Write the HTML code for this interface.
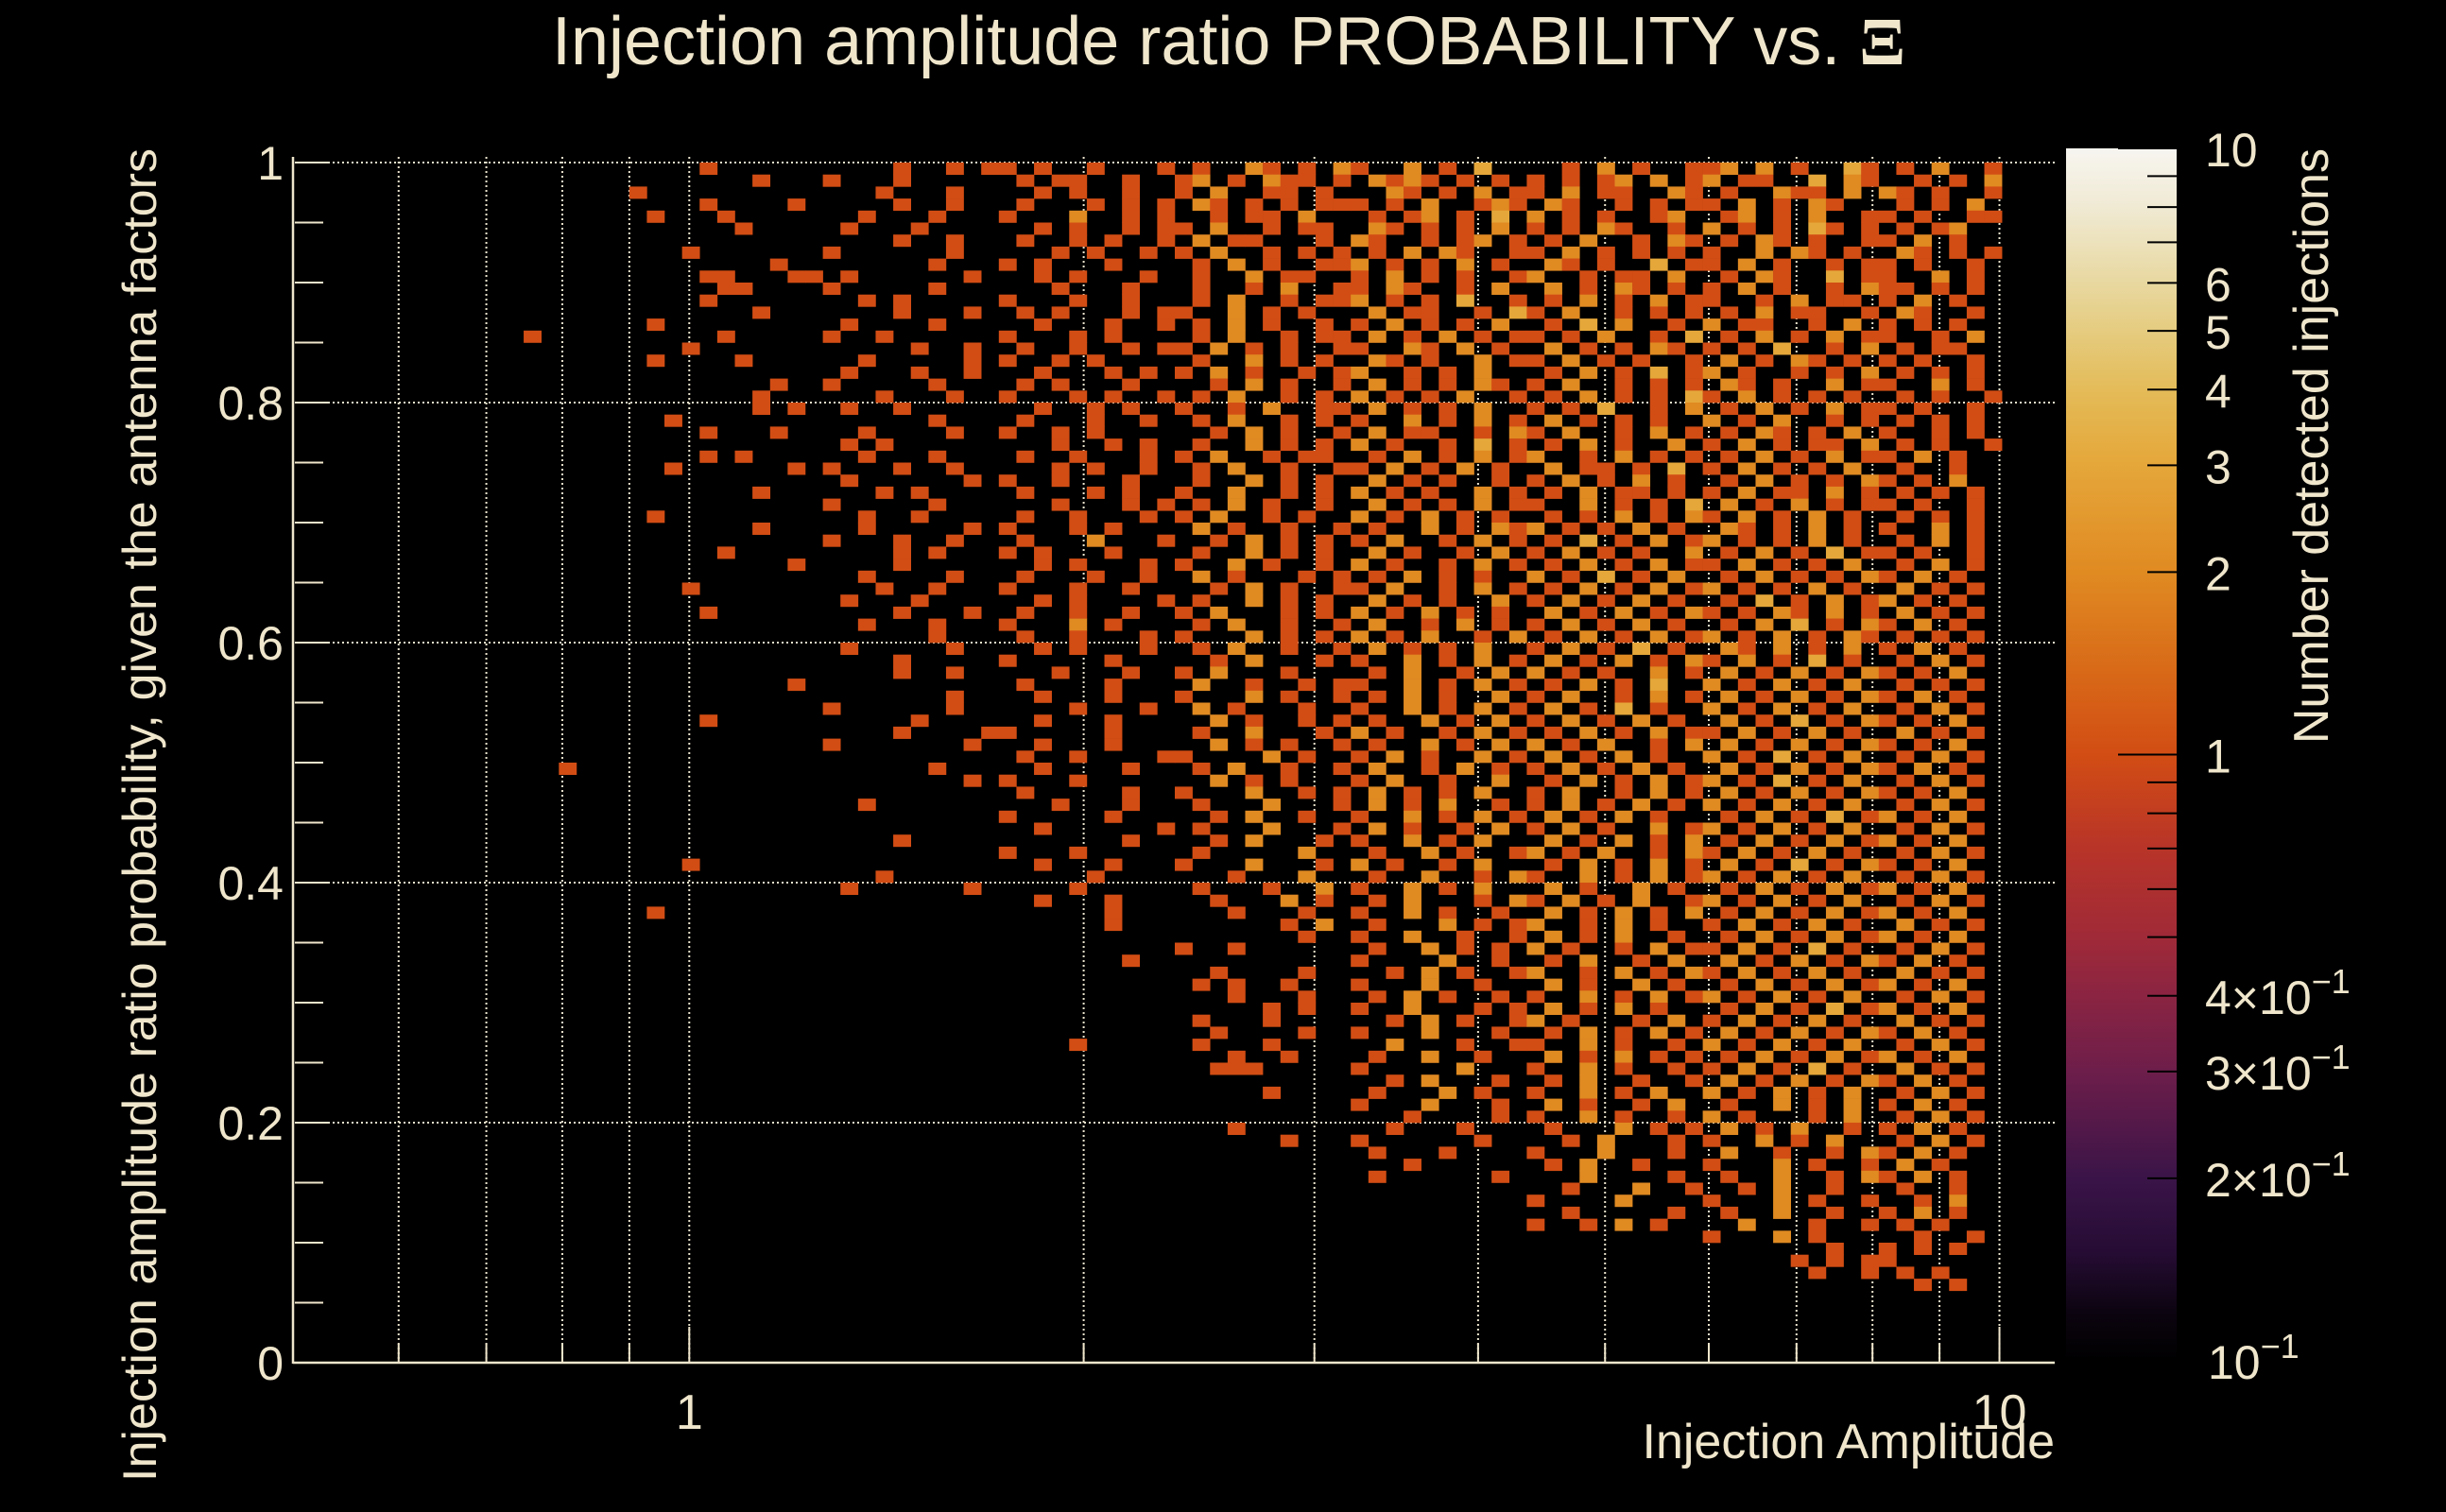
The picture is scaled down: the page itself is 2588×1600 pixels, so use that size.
<!DOCTYPE html>
<html><head><meta charset="utf-8"><title>Injection amplitude ratio probability</title>
<style>
html,body{margin:0;padding:0;background:#000;}
svg{display:block;}
text{font-family:"Liberation Sans",sans-serif;fill:#efe6cc;}
</style></head>
<body>
<svg id="chart" width="2588" height="1600" viewBox="0 0 2588 1600" xmlns="http://www.w3.org/2000/svg">
<rect x="0" y="0" width="2588" height="1600" fill="#000"/>
<defs>
<linearGradient id="cbgrad" x1="0" y1="0" x2="0" y2="1">
<stop offset="0" stop-color="#f7f5f0"/>
<stop offset="0.048" stop-color="#f0ead4"/>
<stop offset="0.111" stop-color="#e8d8a0"/>
<stop offset="0.15" stop-color="#e5cc80"/>
<stop offset="0.2" stop-color="#e4bb58"/>
<stop offset="0.26" stop-color="#e5a73a"/>
<stop offset="0.35" stop-color="#e08a22"/>
<stop offset="0.43" stop-color="#d86a18"/>
<stop offset="0.5" stop-color="#d24d14"/>
<stop offset="0.577" stop-color="#b83428"/>
<stop offset="0.65" stop-color="#a02a38"/>
<stop offset="0.7" stop-color="#8a2442"/>
<stop offset="0.76" stop-color="#6e1e4a"/>
<stop offset="0.85" stop-color="#3a1448"/>
<stop offset="0.91" stop-color="#260c34"/>
<stop offset="0.96" stop-color="#0c0410"/>
<stop offset="1" stop-color="#000"/>
</linearGradient>
</defs>
<g id="grid"></g>
<g id="cells"></g>
<g id="axes"></g>
<g id="colorbar"></g>
<text x="1300" y="68" font-size="72" text-anchor="middle">Injection amplitude ratio PROBABILITY vs.  <tspan font-family="Liberation Serif, serif" font-weight="bold">Ξ</tspan></text>
<text x="2174" y="1543" font-size="52" text-anchor="end">Injection Amplitude</text>
<text transform="translate(165,157) rotate(-90)" x="0" y="0" font-size="50" text-anchor="end" textLength="1411" lengthAdjust="spacingAndGlyphs">Injection amplitude ratio probability, given the antenna factors</text>
<text transform="translate(2463,157) rotate(-90)" x="0" y="0" font-size="52" text-anchor="end">Number detected injections</text>
</svg>
<script>
// ---- data ----
const xRange = [0.5, 11.02];
const yRange = [0, 1];
const nXBins = 100;
const nYBins = 100;
const xTickLabels = ["1", "10"];
const xTickValues = [1, 10];
const xMinorValues = [0.6,0.7,0.8,0.9,2,3,4,5,6,7,8,9];
const yTickValues = [0, 0.2, 0.4, 0.6, 0.8, 1];
const yTickLabels = ["0", "0.2", "0.4", "0.6", "0.8", "1"];
const cbMajor = [0.1, 1, 10];
const cbMinor = [0.2,0.3,0.4,0.5,0.6,0.7,0.8,0.9,2,3,4,5,6,7,8,9];
const cbLabelValues = [10, 6, 5, 4, 3, 2, 1];
const cbSciValues = [0.4, 0.3, 0.2];
const countColors = ["#000", "#d24d14", "#e08a22", "#e5a73a", "#e4bb58"];
// counts per bin; rows from top (y=1) to bottom (y=0); groups of 10 x-bins, "E" = empty group
const countRows = [
"E E ...1...... ....1..1.1 1.1..1...1 .1..21.1.2 1..2.1.3.. ..1.2.1..1 12.2.1..31 .1.2..1...",
"E E ......1... 1...1..... .1.11..1.. 12.1.211.1 .2121.1.1. 1.1.12.2.1 2.11..3.21 ..1.1.2...",
"E .........1 E ...1...1.. ..1.1..1.. 1.2..11.1. ..21.1.2.1 1.2.11..21 .1..211.2. 21.1..1...",
"E E ...1....1. ....1..1.. .1...1.1.1 .21.1.1.11 1.1.2..121 .21..1.1.1 1.2.1.21.. .1.1.2....",
"E E 1...1..... ..1...1... 1...2..1.1 ..1.11.2.. .1.12.1.3. 2.1.1..12. .12.1.2..1 1.1..11...",
"E E .....1.... .1...1.... ..1.1..1.1 1.2..1.11. .21.1.1.2. 1.1.21..1. 2.1.1.31.1 .1.12.....",
"E E E ....1..1.. .1..1.1..1 .2.11...1. 21..1.12.1 .1.2..1.21 .1.21.1..1 1.2.1.....",
"E E ..1....... 1......1.. ...1.1..1. 1.2..1.1.1 .1.2.21..1 1.2.1.1.1. 1..2.21.1. .21.1.1...",
"E E .......1.. ......1... 1.1...1... .1.2.1..11 2.1.1.2.1. .21.1..3.1 1.2.1..1.1 1.1..1....",
"E E ...11...11 .1......1. ..1.1...1. .1..2.11.. 1.2.1.1..1 2..1.11.2. .1.21..3.1 1..2.1....",
"E E ....11.... 1.....1... ...1...1.. .1..1.2..1 1.21..1.2. .2.1.21.1. 1.2.1..1.2 11.1.1....",
"E E ...1...... ..1.1..... 1...1..1.. .1.2..1.11 2.1.1.3..1 .1.2.1.2.1 1..1.2.11. 1.2.1.....",
"E E ......1... ....1...1. .1.1...1.1 1..2.1.1.. .2.11..1.3 1.2..1.1.1 .1.2.11..1 .21..1....",
"E E 1......... .1....1... ..1...1..1 .1.2.1..1. 1.2.1.1.2. .1.3.2..1. 2.11..1.2. 1.1.1.....",
"E ...1...... ....1..... 1..1...... 1...1.1... .1.2..1.11 .2.1.2.1.1 1.1.2..1.3 .1.2.1.2.1 1..1.2....",
"E E ..1....... .....1..1. .1..1..1.1 1.2.1.1..1 1..21.2.1. .2.1.1.21. 1.1.3..1.2 .1.11.....",
"E E 1....1.... ..1.....1. 1..1.1.... .1..2.1.1. .21.1..2.1 1.2.1.1..1 .2.1.21.1. 1.1..1....",
"E E E .1...1..1. ..1...1.1. 1.2.1..1.1 2..1.1.2.. .1.2.1.3.1 2.1..1.1.2 .1.1.1....",
"E E .......1.. 1.....1... .1.1...1.. ..1.2.1..1 .2.1.1.21. 1.2..1.1.1 .21.1..2.1 1..2.1....",
"E E ......1... ...1...1.. 1...1.1..1 .1.2..1.1. 2.1.1.2..1 .1.2.1.1.3 1.2.1.1.1. .1.1..1...",
"E E ......1.1. .1..1..... ..1..1.1.. 1..1.2..11 .2.1.1.2.. 1.1.3..1.2 .1.2.1.2.1 1.1..1....",
"E E .1........ ......1... .1...1..1. .1.2..1.1. 1..2.1.2.1 .2.1.1.1.. 2.1.2..1.1 .1.1.1....",
"E E ...1...1.. ..1....1.. 1..1.1.... ..1.2.1..1 .2.11..1.2 1.2..1.2.1 .1.21.1.2. 1..1.1....",
"E E E .1.1...... ...1..1.1. .1..2.1.1. 2.1..1.3.1 .1.2.1..2. 1.2.1.11.2 .1.1..1...",
"E E ...1.1.... ..1...1... .1..1...1. 1.2..1.11. .1.2.1.2.1 2..1.2.1.1 .1.2.1.2.1 1.2.1.....",
"E E .1......1. 1...1..1.. ...1.1..1. .1.2..1..1 1.2.1.2.1. .2.11.1.3. 1.2.1.1.2. .1..1.....",
"E E E .1......1. 1..1...1.. .1..2.1.1. .2.1.1..1. 1.2.1.2.1. .1.2.1.1.2 1.1.2.....",
"E E ......1... ...1.1.... .1...1.1.. 1..2..1.1. 2.1.1..2.1 .1.2.11.1. 1.2.11.2.1 .1.1.1....",
"E E E 1.....1... ...1...1.1 .1.2.1..1. .2.1.1.2.1 1..2.1.1.3 .2.1.2.1.1 1.1..1....",
"E E 1......... ..1..1.... .1..1...1. 1.2..1.1.. 2.1.2.1.1. .1.1.2.1.2 1.2.1.2.1. .1.1.1....",
"E E ......1... ..1.....1. 1...1.1... .2.1..1..1 .1..2.1.21 2.1.1.2.1. .21.1.2.1. 1..2.1....",
"E E E 1...1..1.. .1...2...1 ..1.2.1.1. 1.2..1.2.1 .1.3.1.2.1 2.1.1.2.1. .1.2.1....",
"E E ....1..... ....1.1... 1.1...1... .1..2.1.1. .2.1..1.2. 1.2.1.1..2 .1.2.1.3.1 1.1..1....",
"E E ........1. ....1..... ..1.1...1. 1..2.1..1. 2.1..1.2.1 .1.2.1.2.1 1.2.1.1.2. .1.2.1....",
"E E E ..1....1.. .1...1..1. .2.1...1.1 .1.2.1.1.. 2.1.3.1.2. .1.2.1.1.2 1.2.1.....",
"E E ..1....... ...1..1... 1...1..1.. ..1.2.1..1 1.2..1.2.1 .1.2.1.2.1 2.1.1.2.1. .2.1.1....",
"E E E .1...1.... ..1.1....1 .1..2.1.1. .2.1.1..2. 1.2.1.2.1. .1.3.1.2.1 2.1.1.....",
"E E ...1...... ....1...1. .1..1..1.. 1.2...1.1. 2.1.2.1.1. .2.1.2.1.2 1.1.21.2.1 .2.1.1....",
"E E E ..1...1... 1...2.1... .1.2..1..1 .2..1.2.1. 1.2.1.2.1. .1.2.3.1.2 1.2.1.....",
"E E E ......1... .1..1...1. 1...2.1.1. 2.1.2..1.2 .1.2.1.2.1 2.1.2.1.21 .1.1.1....",
"E E E .1.....1.. ..1.1...1. .1.2..1..1 .2.1.1.2.. 1.2.1.3.1. .21.2.1.2. 1.2.1.....",
"E E E ....1..... 1.....1... ..1.2...1. 1..2.1.2.1 .2.1.2.1.2 1.2.1.3.1. .1.2.1....",
"E E E ....1..1.. ...1...1.. 1.2...1... .1.2..1.2. 2.1.1..2.1 .2.1.2.1.2 1.1.2.....",
"E E ........1. E .1....1... .2..1..1.1 1..2.1.2.1 .1.2.1.3.. 2.1.2.1.2. .1.1.1....",
"E E E .......1.. ..1...1... 1...2.1..1 .1.2.1..2. 1.2..1.2.1 .2.1.2.1.2 1.2.1.....",
"E E E 1......1.. ....1...1. .2.1...1.. 1..2.1.2.1 .2.1.3.1.. 2.1.2.1.2. .1.2.1....",
"E E ...1...... .....1.... ..1...1... ..2.1..1.1 .1..2.1.2. 1.2.1.2.1. .2.1.3.1.2 1.1.2.....",
"E E E ....1....1 1.....1... .1..2...1. 2.1..1.2.1 .1.2.1.2.1 1.2.1.2.1. .2.1.1....",
"E E E 1.......1. ..1...1... ..2.1.1..1 .1..2.1.2. 2.1.2..1.2 .2.1.2.1.2 1.1.2.....",
"E E E E .1..1....1 1....2.1.. 1.2.1..2.1 .2.1.2.1.. 2.1.3.1.2. .1.2.1....",
"E .....1.... E ......1... ..1....1.. .1.2..1..1 .2..1.2.1. 1.2.1.2.1. .2.1.2.1.2 1.2.1.....",
"E E E ........1. 1...1..... ..2.1.1... 1.2..1..2. .1.2.1.2.1 2.1.3.1.2. .1.2.1....",
"E E E E .1.....1.. 1...2..1.1 .2.1.1.2.. 1.2..1.2.1 .2.1.2.1.2 1.1.2.....",
"E E E ..1....... ...1...1.. .1...2...1 .2.1.2..1. 1.2.1.2.1. 2.1.2.1.2. .1.2.1....",
"E E E E 1.....1... ..1.2..1.. 1..2.1.2.1 .2.1.2.1.. .1.2.1.3.1 2.1.2.....",
"E E E E ..1......1 .1...2...1 .2.1..1.2. 1.2.1..2.1 2.1.2.1.2. .1.2.1....",
"E E E ....1..... .......1.. ..1.2...1. 1..2.1.2.. .2.1.2.1.2 .1.2.1.2.1 2.1.2.....",
"E E E E 1...1..... .1.....2.. .1..2.1..1 2.1.2..1.2 1.2.1.2.1. .1.2.1....",
"E E ..1....... E ..1...1... 1...2...1. 2.1..1.2.. .1.2.1.2.1 .2.1.3.1.2 1.1.2.....",
"E E E ...1...... .....1.... ...1...2.. .1..2..1.2 1..2.1.2.1 2.1.2.1.2. .1.2.1....",
"E E E .1......1. ....1..... .1...1..2. 1..2.1.2.. .2.1..2.1. .1.2.1.2.1 2.1.2.....",
"E E E E ..1...1... ..1...2.1. .1.2...1.2 1.2.1.2..1 2.1.2.1.2. .1.2.1....",
"E E 1......... E ......1... ...1...1.. 1..2.1..1. .2.1.2.1.2 .1.2.1.2.1 2.1.2.....",
"E E E E ......1... ......1.2. .1...2.1.1 2..1.2.1.. 1.2.1.2.1. .2.1.1....",
"E E E E E .......1.. 1..2..1..1 .2.1.2..1. .1.2.1.2.1 2.1.2.....",
"E E E E E 1..1...... .1..2.1.1. 2.1..1.2.1 1.2.1.3.1. .1.2.1....",
"E E E E .......1.. E 1....2..1. .1.2..1.2. .2.1.2.1.2 1.2.1.....",
"E E E E E ..1....1.. ..1.2.1..1 2..1.2.1.2 1.2.1.2.1. .2.1.1....",
"E E E E E .1.1..1... 1...2..1.. .2.1..2.1. .1.2.1.2.1 2.1.2.....",
"E E E E E ...1...1.. .1.2.1..1. 1..2.1.2.1 2.1.2.1.2. .1.2.1....",
"E E E E E .....1.1.. 1..2...1.1 .2.1.2.1.. .1.2.1.3.1 2.1.2.....",
"E E E E E .1...1.... ..1.2.1..1 2.1...1.2. 1.2.1.2.1. .2.1.1....",
"E E E E E ..1....1.. 1...2...1. .1.2.1.2.1 .2.1.2.1.2 1.2.1.....",
"E E E E ....1..... .1...1.... ..2...1..1 1..2.1..1. 2.1.2.1.2. .1.2.1....",
"E E E E E ...1..1... .1..2..1.. .2.1.2.1.1 .1.2.1.2.1 2.1.2.....",
"E E E E E ..111..... 1.....2... 1..2.1..1. 1.2.1.3.1. .2.1.1....",
"E E E E E E ..1.2...1. .1.2..1..1 .2.1.2.1.2 1.2.1.....",
"E E E E E .....1.... .1...2.1.. 1..2.1.2.. 2.1.2.1.2. .1.2.1....",
"E E E E E E 1...2...1. .2.1..1.2. .1..2.1.2. 1.2.1.....",
"E E E E E E ...1....1. 1..2.1..1. 2.1...1.2. .1.2.1....",
"E E E E E ...1...... ..1...1... .1...2.1.1 .2.1.2..1. 1.2.1.....",
"E E E E E ......1... 1......1.. ..1.2...1. 1..2.1.2.. .1.2.1....",
"E E E E E E .1...1.... 1...2...1. .2..1..1.2 1.2.1.....",
"E E E E E E ...1...... .1.2..1... 1...2.1..1 .2.1......",
"E E E E E E .1......1. ...2....1. .1..2..1.2 1.2.1.....",
"E E E E E E E ..1...2..1 ..1.2..1.. .1..1.....",
"E E E E E E E 1....2.... 1...2.1..1 ..1.2.....",
"E E E E E E E ..1.....1. .1..2..1.. 1.2.1.....",
"E E E E E E E 1..1.2.1.. ..2...1..1 .1.1......",
"E E E E E E E E 1...2.1... ..1..1....",
"E E E E E E E E .......1.. 1.1.1.....",
"E E E E E E E E .....1.1.1 1.........",
"E E E E E E E E ......1..1 .1.1......",
"E E E E E E E E E ..1.1.....",
"E E E E E E E E E E",
"E E E E E E E E E E",
"E E E E E E E E E E",
"E E E E E E E E E E",
"E E E E E E E E E E",
"E E E E E E E E E E",
"E E E E E E E E E E"
];

// ---- scales ----
const NS = "http://www.w3.org/2000/svg";
const plotL = 312, plotR = 2174, plotT = 172, plotB = 1442;
const lmin = Math.log10(xRange[0]), lmax = Math.log10(xRange[1]);
function xScale(v){ return plotL + (Math.log10(v) - lmin) / (lmax - lmin) * (plotR - plotL); }
function xBinScale(i){ return plotL + i / nXBins * (plotR - plotL); }
function yScale(v){ return plotB - (v - yRange[0]) / (yRange[1] - yRange[0]) * (plotB - plotT); }
const cbL = 2186, cbR = 2303, cbT = 157, cbB = 1440;
function cbScale(v){ return cbT + (1 - Math.log10(v)) / 2 * (cbB - cbT); }

function mk(tag, attrs, parent){
  const el = document.createElementNS(NS, tag);
  for (const k in attrs) el.setAttribute(k, attrs[k]);
  parent.appendChild(el);
  return el;
}

// ---- grid ----
const grid = document.getElementById('grid');
xTickValues.concat(xMinorValues).forEach(v => {
  const l = mk('line', {x1: xScale(v), x2: xScale(v), y1: plotT - 6, y2: plotB, stroke: '#e9e2cc', 'stroke-width': 2, 'stroke-dasharray': '2 3'}, grid);
  
  
});
yTickValues.slice(1).forEach(v => {
  const l = mk('line', {x1: plotL, x2: plotR, y1: yScale(v), y2: yScale(v), stroke: '#e9e2cc', 'stroke-width': 2, 'stroke-dasharray': '2 3'}, grid);
  
  
});

// ---- cells ----
const cells = document.getElementById('cells');
countRows.forEach((row, r) => {
  const s = row.split(' ').map(g => g === 'E' ? '..........' : g).join('');
  const yTop = yScale(yRange[1] - r / nYBins);
  const yBot = yScale(yRange[1] - (r + 1) / nYBins);
  for (let c = 0; c < s.length; c++) {
    const ch = s[c];
    if (ch === '.') continue;
    const n = parseInt(ch, 10);
    const x0 = xBinScale(c), x1 = xBinScale(c + 1);
    const rect = mk('rect', {x: x0, y: yTop, width: x1 - x0 + 0.3, height: yBot - yTop + 0.3, fill: countColors[Math.min(n, 4)]}, cells);
    
    
  }
});

// ---- axes ----
const axes = document.getElementById('axes');
const yAxis = mk('line', {x1: plotL - 2, x2: plotL - 2, y1: plotT - 6, y2: plotB + 1, stroke: '#efe6cc', 'stroke-width': 2.5}, axes);


const xAxis = mk('line', {x1: plotL - 2, x2: plotR, y1: plotB, y2: plotB, stroke: '#efe6cc', 'stroke-width': 2.5}, axes);


for (let k = 0; k <= 20; k++) {
  const v = k * 0.05;
  const len = (k % 4 === 0) ? 36 : 30;
  const t = mk('line', {x1: plotL, x2: plotL + len, y1: yScale(v), y2: yScale(v), stroke: '#efe6cc', 'stroke-width': 2}, axes);
  
  
}
yTickValues.forEach((v, i) => {
  const t = mk('text', {x: 300, y: yScale(v) + 18, 'font-size': 50, 'text-anchor': 'end'}, axes);
  t.textContent = yTickLabels[i];
  
  
});
xTickValues.forEach((v, i) => {
  const t = mk('line', {x1: xScale(v), x2: xScale(v), y1: plotB, y2: plotB - 38, stroke: '#efe6cc', 'stroke-width': 2}, axes);
  
  
  const lb = mk('text', {x: xScale(v), y: 1512, 'font-size': 52, 'text-anchor': 'middle'}, axes);
  lb.textContent = xTickLabels[i];
  
  
});
xMinorValues.forEach(v => {
  const t = mk('line', {x1: xScale(v), x2: xScale(v), y1: plotB, y2: plotB - 20, stroke: '#efe6cc', 'stroke-width': 2}, axes);
  
  
});

// ---- colorbar ----
const cb = document.getElementById('colorbar');
const bar = mk('rect', {x: cbL, y: cbT, width: cbR - cbL, height: cbB - cbT, fill: 'url(#cbgrad)'}, cb);


cbMajor.forEach(v => {
  const t = mk('line', {x1: cbR, x2: cbR - 62, y1: cbScale(v), y2: cbScale(v), stroke: '#000', 'stroke-width': 2}, cb);
  
  
});
cbMinor.forEach(v => {
  const t = mk('line', {x1: cbR, x2: cbR - 31, y1: cbScale(v), y2: cbScale(v), stroke: '#000', 'stroke-width': 2}, cb);
  
  
});
cbLabelValues.forEach(v => {
  const t = mk('text', {x: 2333, y: cbScale(v) + 19, 'font-size': 50}, cb);
  t.textContent = String(v);
  
  
});
cbSciValues.forEach(v => {
  const t = mk('text', {x: 2333, y: cbScale(v) + 19, 'font-size': 50}, cb);
  
  
  t.appendChild(document.createTextNode(String(Math.round(v * 10)) + '×10'));
  const sup = mk('tspan', {dy: -22, 'font-size': 36}, t);
  sup.textContent = '−1';
});
const low = mk('text', {x: 2336, y: cbB + 19, 'font-size': 50}, cb);


low.appendChild(document.createTextNode('10'));
const lowSup = mk('tspan', {dy: -22, 'font-size': 36}, low);
lowSup.textContent = '−1';
</script>
</body></html>
